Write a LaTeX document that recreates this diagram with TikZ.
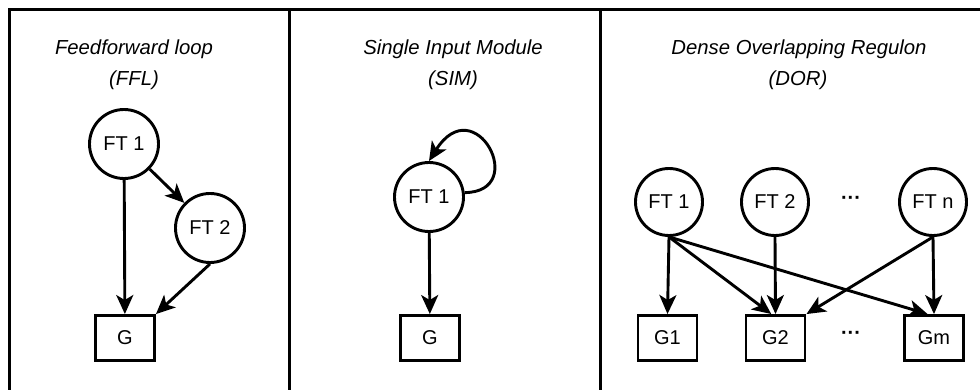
\documentclass[tikz,border=0pt]{standalone}
\usepackage{fontspec}
\setmainfont{Liberation Sans}
\usetikzlibrary{arrows.meta}

\begin{document}
\begin{tikzpicture}[x=1pt, y=-1pt, line width=2.9pt,
    ft/.style = {circle, draw, minimum size=69pt, inner sep=0pt, font=\fontsize{20}{24}\selectfont},
    gene/.style = {rectangle, draw, minimum width=59pt, minimum height=45pt, inner sep=0pt, font=\fontsize{20}{24}\selectfont},
    title/.style = {anchor=base, font=\fontsize{20.3}{24}\selectfont\itshape},
    dots/.style = {font=\fontsize{20}{24}\selectfont\bfseries},
    ->/.style = {-{Stealth[length=19pt, width=17pt, inset=5pt]}}]
\useasboundingbox (0,0) rectangle (980,390);

% frame and panels
\draw[line width=3pt] (9,390) -- (9,10) -- (980,10);
\draw[line width=3pt] (289,10) -- (289,390);
\draw[line width=3pt] (600,10) -- (600,390);

% FFL
\node[title] (ffltitle) at (134,55) {Feedforward loop};
\node[title] (fflabbr)  at (134,86) {(FFL)};
\node[ft] (FFLa) at (124,144) {FT 1};
\node[ft] (FFLb) at (210,228) {FT 2};
\node[gene] (FFLg) at (125,338) {G};

\draw[->] (FFLa) -- (FFLg);
\draw[->] (FFLa) -- (FFLb);
\draw[->] (FFLb.south) -- (FFLg.north east);

% SIM
\node[title] (simtitle) at (453,55) {Single Input Module};
\node[title] (simabbr)  at (453,86) {(SIM)};
\node[ft] (SIMa) at (429,197) {FT 1};
\node[gene] (SIMg) at (430,338) {G};

\draw[->] (SIMa.7) .. controls (530,192) and (475,88) .. (SIMa.north);
\draw[->] (SIMa) -- (SIMg);

% DOR
\node[title] (dortitle) at (799,55) {Dense Overlapping Regulon};
\node[title] (dorabbr)  at (798,86) {(DOR)};
\node[ft, minimum size=67pt] (DORa) at (669,202) {FT 1};
\node[ft, minimum size=67pt] (DORb) at (775,202) {FT 2};
\node[ft, minimum size=67pt] (DORn) at (933,202) {FT n};
\node[dots] (ftdots) at (851,200) {···};
\node[gene] (DORg1) at (667.5,338) {G1};
\node[gene] (DORg2) at (775.5,338) {G2};
\node[gene] (DORgm) at (934,338) {Gm};
\node[dots] (gdots) at (851,335) {···};

\draw[->] (DORa.south) -- (DORg1.north);
\draw[->] (DORa.south) -- (DORg2.100);
\draw[->] (DORa.south) -- (DORgm.105);
\draw[->] (DORb.south) -- (DORg2.north);
\draw[->] (DORn.south) -- (DORg2.north east);
\draw[->] (DORn.south) -- (DORgm.north);
\end{tikzpicture}
\end{document}
